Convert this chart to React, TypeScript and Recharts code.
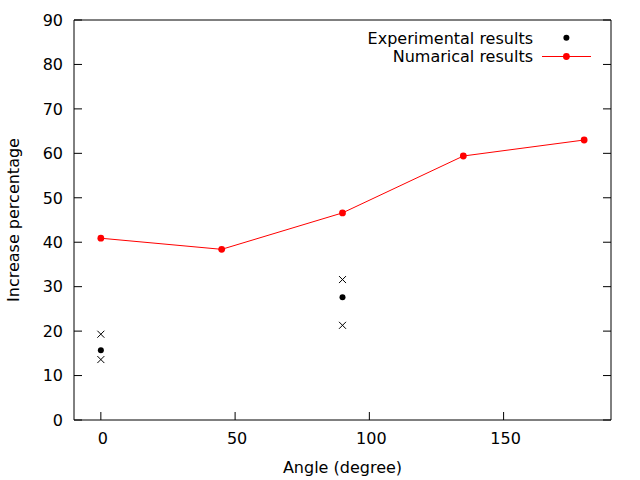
import { ScatterChart, Scatter, XAxis, YAxis, Legend } from "recharts";

// values
const numAngles = [0, 45, 90, 135, 180];
const numIncrease = [40.9, 38.4, 46.6, 59.4, 63.0];

const expAngles = [0, 90];
const expIncrease = [15.7, 27.6];
const expUpper = [19.3, 31.6];
const expLower = [13.6, 21.3];

const xTicks = [0, 50, 100, 150];
const yTicks = [0, 10, 20, 30, 40, 50, 60, 70, 80, 90];

const FONT = "'DejaVu Sans', sans-serif";
const FS = 16;
const RED = "#ff0000";

const numData = numAngles.map((x, i) => ({ x, y: numIncrease[i] }));
const expData = expAngles.map((x, i) => ({ x, y: expIncrease[i] }));
const boundData = expAngles.flatMap((x, i) => [
  { x, y: expUpper[i] },
  { x, y: expLower[i] },
]);

type TickProps = { x?: number; y?: number; payload?: { value: number } };

// gnuplot style: ticks point inward, labels only on bottom/left
const BottomTick = ({ x = 0, y = 0, payload }: TickProps) => (
  <g>
    <line x1={x} y1={y} x2={x} y2={y - 8} stroke="#000" />
    <text x={x + 2} y={y + 24} textAnchor="middle" fontFamily={FONT} fontSize={FS} fill="#000">
      {payload?.value}
    </text>
  </g>
);

const LeftTick = ({ x = 0, y = 0, payload }: TickProps) => (
  <g>
    <line x1={x} y1={y} x2={x + 8} y2={y} stroke="#000" />
    <text x={x - 11} y={y} dy="0.36em" textAnchor="end" fontFamily={FONT} fontSize={FS} fill="#000">
      {payload?.value}
    </text>
  </g>
);

const TopTick = ({ x = 0, y = 0 }: TickProps) => (
  <line x1={x} y1={y} x2={x} y2={y + 8} stroke="#000" />
);

const RightTick = ({ x = 0, y = 0 }: TickProps) => (
  <line x1={x} y1={y} x2={x - 8} y2={y} stroke="#000" />
);

const Cross = ({ cx = 0, cy = 0 }: { cx?: number; cy?: number }) => (
  <g stroke="#000" strokeWidth={1}>
    <line x1={cx - 3.5} y1={cy - 3.5} x2={cx + 3.5} y2={cy + 3.5} />
    <line x1={cx - 3.5} y1={cy + 3.5} x2={cx + 3.5} y2={cy - 3.5} />
  </g>
);

const BlackDot = ({ cx = 0, cy = 0 }: { cx?: number; cy?: number }) => (
  <circle cx={cx} cy={cy} r={3} fill="#000" />
);

const RedDot = ({ cx = 0, cy = 0 }: { cx?: number; cy?: number }) => (
  <circle cx={cx} cy={cy} r={3.4} fill={RED} />
);

function KeyBox({ payload }: { payload?: Array<{ value: string; color?: string }> }) {
  const items = (payload ?? []).filter((p) => p.value);
  return (
    <svg width={290} height={50}>
      {items.map((p, i) => {
        const cy = 17.7 + i * 18.8;
        const isLine = p.value.startsWith("Num");
        return (
          <g key={p.value}>
            <text x={193} y={cy + 5.8} textAnchor="end" fontFamily={FONT} fontSize={FS} fill="#000">
              {p.value}
            </text>
            {isLine && <line x1={202} y1={cy} x2={251} y2={cy} stroke={RED} />}
            <circle cx={226.4} cy={cy} r={isLine ? 3.4 : 3} fill={isLine ? RED : "#000"} />
          </g>
        );
      })}
    </svg>
  );
}

export default function App() {
  return (
    <div style={{ position: "absolute", left: 0, top: 0, background: "#fff" }}>
      <ScatterChart width={640} height={480} margin={{ top: 19, right: 28, bottom: 0, left: 0 }}>
        <XAxis
          type="number"
          dataKey="x"
          domain={[-10, 190]}
          ticks={xTicks}
          allowDataOverflow
          height={60}
          tickSize={0}
          tickMargin={0}
          tickLine={false}
          tick={<BottomTick />}
          axisLine={{ stroke: "#000" }}
          label={{
            value: "Angle (degree)",
            content: () => (
              <text x={342.5} y={472.5} textAnchor="middle" fontFamily={FONT} fontSize={FS} fill="#000">
                Angle (degree)
              </text>
            ),
          }}
        />
        <XAxis
          xAxisId="top"
          orientation="top"
          type="number"
          domain={[-10, 190]}
          ticks={xTicks}
          allowDataOverflow
          height={1}
          tickSize={0}
          tickMargin={0}
          tickLine={false}
          tick={<TopTick />}
          axisLine={{ stroke: "#000" }}
        />
        <YAxis
          type="number"
          dataKey="y"
          domain={[0, 90]}
          ticks={yTicks}
          allowDataOverflow
          width={74}
          tickSize={0}
          tickMargin={0}
          tickLine={false}
          tick={<LeftTick />}
          axisLine={{ stroke: "#000" }}
          label={{
            value: "Increase percentage",
            content: () => (
              <text
                x={19}
                y={220}
                transform="rotate(-90 19 220)"
                textAnchor="middle"
                fontFamily={FONT}
                fontSize={FS}
                fill="#000"
              >
                Increase percentage
              </text>
            ),
          }}
        />
        <YAxis
          yAxisId="right"
          orientation="right"
          type="number"
          domain={[0, 90]}
          ticks={yTicks}
          allowDataOverflow
          width={1}
          tickSize={0}
          tickMargin={0}
          tickLine={false}
          tick={<RightTick />}
          axisLine={{ stroke: "#000" }}
        />
        <Legend
          layout="horizontal"
          align="center"
          verticalAlign="middle"
          wrapperStyle={{ left: 340, top: 20, width: 290, height: 50 }}
          content={<KeyBox />}
        />
        <Scatter
          name="Experimental results"
          data={expData}
          fill="#000"
          shape={<BlackDot />}
          isAnimationActive={false}
        />
        <Scatter
          name=""
          data={boundData}
          fill="#000"
          legendType="none"
          shape={<Cross />}
          isAnimationActive={false}
        />
        <Scatter
          name="Numarical results"
          data={numData}
          fill={RED}
          line={{ stroke: RED, strokeWidth: 1 }}
          shape={<RedDot />}
          isAnimationActive={false}
        />
      </ScatterChart>
    </div>
  );
}
